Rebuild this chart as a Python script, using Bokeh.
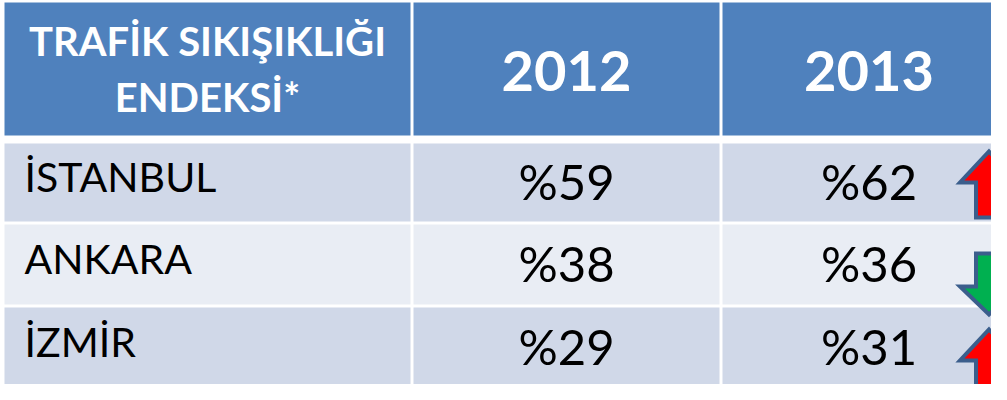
from bokeh.plotting import figure
from bokeh.models import Range1d
from bokeh.core.properties import value
from bokeh.embed import file_html
from bokeh.resources import INLINE

# ---- data ----
title_lines = ["TRAFİK SIKIŞIKLIĞI", "ENDEKSİ*"]
years = ["2012", "2013"]
cities = ["İSTANBUL", "ANKARA", "İZMİR"]
index_2012 = [59, 38, 29]
index_2013 = [62, 36, 31]

# ---- layout (pixels) ----
W, H = 991, 384
col_left = [4, 413, 722]
col_right = [410, 719, 1015]
header_top, header_bottom = 2, 135
row_top = [143, 224, 307]
row_bottom = [221, 304, 387]
HEADER = "#4F81BD"
BANDS = ["#D0D8E8", "#E9EDF4", "#D0D8E8"]
FONT = "Lato"

arrow_cx = 988.5
arrow_top = [151, 253, 329]
arrow_len = [66, 61, 67]
arrow_head = [31, 28, 31]
arrow_hw = 29
arrow_sw = 13

p = figure(width=W, height=H, x_range=Range1d(0, W), y_range=Range1d(H, 0),
           min_border=0, toolbar_location=None, output_backend="svg",
           x_axis_location=None, y_axis_location=None, outline_line_color=None)
p.grid.visible = False
p.background_fill_color = "white"
p.border_fill_color = "white"

# header cells
p.quad(left=col_left, right=col_right, top=[header_top] * 3, bottom=[header_bottom] * 3,
       fill_color=HEADER, line_color=None)

# body cells
ql, qr, qt, qb, qc = [], [], [], [], []
for r in range(len(cities)):
    for c in range(3):
        ql.append(col_left[c]); qr.append(col_right[c])
        qt.append(row_top[r]); qb.append(row_bottom[r]); qc.append(BANDS[r])
p.quad(left=ql, right=qr, top=qt, bottom=qb, fill_color=qc, line_color=None)

col_center = [(a + b) / 2 for a, b in zip(col_left, col_right)]
row_center = [(a + b) / 2 for a, b in zip(row_top, row_bottom)]

# header title
p.text(x=[col_center[0]] * 2, y=[56.5 - 16.5, 113 - 16.5], text=title_lines,
       text_font=value(FONT), text_font_style="bold", text_font_size="40px",
       text_color="white", text_align="center", text_baseline="alphabetic")
# years
p.text(x=col_center[1:], y=[92 - 22] * 2, text=years,
       text_font=value(FONT), text_font_style="bold", text_font_size="56px",
       text_color="white", text_align="center", text_baseline="alphabetic")

# city labels
p.text(x=[col_left[0] + 20] * 3, y=[rc + 12 - 18 for rc in row_center], text=cities,
       text_font=value(FONT), text_font_size="41px", text_color="black",
       text_align="left", text_baseline="alphabetic")

# values
for c, vals in zip([1, 2], [index_2012, index_2013]):
    p.text(x=[col_center[c]] * 3, y=[rc + 19 - 21 for rc in row_center],
           text=["%" + str(v) for v in vals],
           text_font=value(FONT), text_font_size="49px", text_color="black",
           text_align="center", text_baseline="alphabetic")

# trend arrows
xs, ys, fills = [], [], []
for i in range(len(cities)):
    up = index_2013[i] > index_2012[i]
    t, L, hl = arrow_top[i], arrow_len[i], arrow_head[i]
    cx = arrow_cx
    if up:
        px = [cx, cx + arrow_hw, cx + arrow_sw, cx + arrow_sw, cx - arrow_sw, cx - arrow_sw, cx - arrow_hw]
        py = [t, t + hl, t + hl, t + L, t + L, t + hl, t + hl]
        fills.append("#FF0000")
    else:
        hb = t + L - hl
        px = [cx - arrow_sw, cx + arrow_sw, cx + arrow_sw, cx + arrow_hw, cx, cx - arrow_hw, cx - arrow_sw]
        py = [t, t, hb, hb, t + L, hb, hb]
        fills.append("#00B050")
    xs.append(px); ys.append(py)
p.patches(xs=xs, ys=ys, fill_color=fills, line_color="#3B5E8C", line_width=4,
          line_join="miter")

open("out.html", "w").write(file_html(p, INLINE))
